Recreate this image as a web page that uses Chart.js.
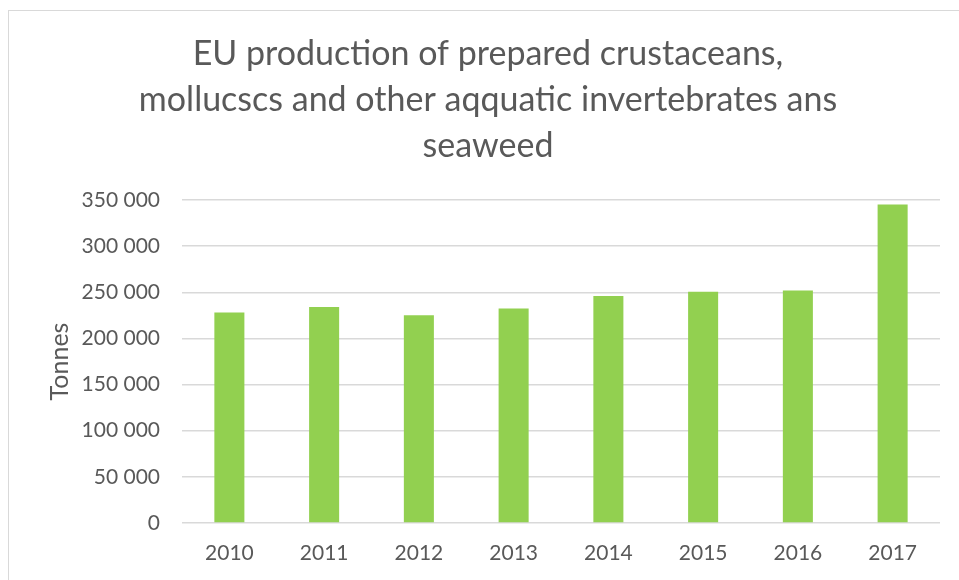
<!DOCTYPE html>
<html>
<head>
<meta charset="utf-8">
<script src="https://cdn.jsdelivr.net/npm/chart.js@4.4.1/dist/chart.umd.min.js"></script>
<style>
  html, body { margin: 0; padding: 0; background: #ffffff; overflow: hidden; }
  #frame { position: absolute; left: 8px; top: 10px; width: 1000px; height: 620px; border: 1px solid #d9d9d9; box-sizing: border-box; }
  #wrap { position: absolute; left: 0; top: 0; width: 959px; height: 580px; }
</style>
</head>
<body>
<div id="frame"></div>
<div id="wrap"><canvas id="c" width="959" height="580"></canvas></div>
<script>
const categories = ["2010", "2011", "2012", "2013", "2014", "2015", "2016", "2017"];
const production = [228000, 234000, 225000, 232500, 246000, 250500, 252000, 345000];
const titleLines = ["EU production of prepared crustaceans,", "mollucscs and other aqquatic invertebrates ans", "seaweed"];
const yAxisTitle = "Tonnes";
const yTickStep = 50000;
const yMax = 350000;

function fmt(v) {
  return String(v).replace(/\B(?=(\d{3})+(?!\d))/g, " ");
}

const textColor = "#595959";
const gridColor = "#d9d9d9";

new Chart(document.getElementById("c"), {
  type: "bar",
  data: {
    labels: categories,
    datasets: [{
      data: production,
      backgroundColor: "#92d050",
      borderWidth: 0,
      categoryPercentage: 1,
      barPercentage: 0.317
    }]
  },
  options: {
    responsive: false,
    animation: false,
    layout: { padding: { left: 36, right: 19, top: 0, bottom: 0 } },
    plugins: {
      legend: { display: false },
      tooltip: { enabled: false },
      title: {
        display: true,
        text: titleLines,
        color: textColor,
        font: { family: "Lato", size: 34, weight: "normal", lineHeight: "46px" },
        padding: { top: 31, bottom: 31 }
      }
    },
    scales: {
      x: {
        grid: { display: false, drawTicks: false },
        border: { display: false },
        ticks: { color: textColor, font: { family: "Lato", size: 21 }, padding: 18 },
        afterFit: (s) => { s.height = 57; }
      },
      y: {
        min: 0,
        max: yMax,
        ticks: { stepSize: yTickStep, color: textColor, font: { family: "Lato", size: 21 }, padding: 22, callback: (v) => fmt(v) },
        grid: { color: gridColor, lineWidth: 1.5, drawTicks: false },
        border: { display: false },
        title: { display: true, text: yAxisTitle, color: textColor, font: { family: "Lato", size: 25 }, padding: { top: 9, bottom: 0 } },
        afterFit: (s) => { s.width = 146; }
      }
    }
  }
});
</script>
</body>
</html>
